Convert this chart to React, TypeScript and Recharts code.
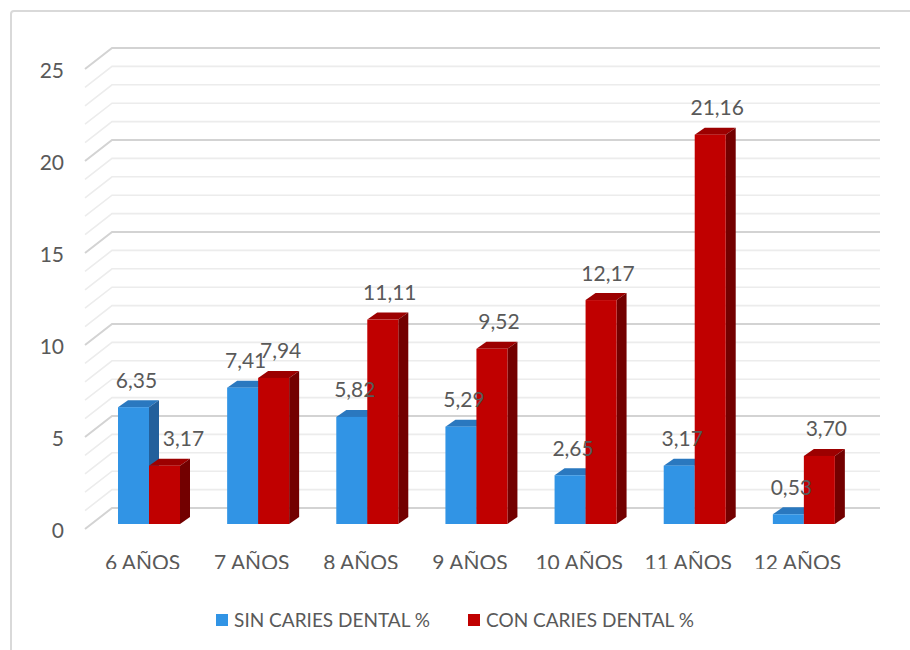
import { BarChart, Bar, XAxis, YAxis, CartesianGrid, Legend, LabelList } from 'recharts';

const categories = ['6 AÑOS', '7 AÑOS', '8 AÑOS', '9 AÑOS', '10 AÑOS', '11 AÑOS', '12 AÑOS'];
const sinCaries = [6.35, 7.41, 5.82, 5.29, 2.65, 3.17, 0.53];
const conCaries = [3.17, 7.94, 11.11, 9.52, 12.17, 21.16, 3.7];
const seriesNames = ['SIN CARIES DENTAL %', 'CON CARIES DENTAL %'];
const yTicks = [0, 1, 2, 3, 4, 5, 6, 7, 8, 9, 10, 11, 12, 13, 14, 15, 16, 17, 18, 19, 20, 21, 22, 23, 24, 25];
const yLabels = [0, 5, 10, 15, 20, 25];

const data = categories.map((name, i) => ({ name, sin: sinCaries[i], con: conCaries[i] }));

const FONT = 'Lato, "Open Sans", sans-serif';
const TEXT = '#595959';

// plot area (front edge of the floor)
const TOP = 69;
const BOTTOM = 529;
// back wall offset
const WALL_DX = 24;
const WALL_DY = 21;
const WALL_RIGHT = 880;
// bar front plane offset and bar depth
const BAR_DX = 6;
const BAR_DY = 5;
const DEPTH_X = 10;
const DEPTH_Y = 7;

const BLUE = { front: '#3194e5', top: '#2a78bf', side: '#23609c' };
const RED = { front: '#c00000', top: '#9c0000', side: '#730000' };

function Box3D(props: any) {
  const { x, y, width, height, colors } = props;
  if (!height || height <= 0) return null;
  const fx = x + BAR_DX;
  const fy = y - BAR_DY;
  const w = width;
  const h = height;
  return (
    <g>
      <polygon
        points={`${fx},${fy} ${fx + DEPTH_X},${fy - DEPTH_Y} ${fx + w + DEPTH_X},${fy - DEPTH_Y} ${fx + w},${fy}`}
        fill={colors.top}
      />
      <polygon
        points={`${fx + w},${fy} ${fx + w + DEPTH_X},${fy - DEPTH_Y} ${fx + w + DEPTH_X},${fy + h - DEPTH_Y} ${fx + w},${fy + h}`}
        fill={colors.side}
      />
      <rect x={fx} y={fy} width={w} height={h} fill={colors.front} />
    </g>
  );
}

// red labels move right when the blue bar beside them is taller
function valueLabel(series: 'sin' | 'con') {
  return (props: any) => {
    const { x, y, width, value, index } = props;
    let shift = series === 'sin' ? 3 : 7;
    if (series === 'con' && data[index].sin > data[index].con) shift = 19;
    return (
      <text
        x={x + width / 2 + BAR_DX + shift}
        y={y - BAR_DY - 28}
        textAnchor="middle"
        dominantBaseline="central"
        fontFamily={FONT}
        fontSize={21}
        fill={TEXT}
      >
        {Number(value).toFixed(2).replace('.', ',')}
      </text>
    );
  };
}

function gridLine(props: any) {
  const { x1, y1 } = props;
  const v = Math.round(((BOTTOM - y1) / (BOTTOM - TOP)) * 25);
  const major = v % 5 === 0;
  return (
    <path
      key={`g-${v}`}
      d={`M${x1 - 3},${y1} L${x1 + WALL_DX},${y1 - WALL_DY} L${WALL_RIGHT},${y1 - WALL_DY}`}
      fill="none"
      stroke={major ? '#d3d3d3' : '#ececec'}
      strokeWidth={major ? 2 : 1.6}
    />
  );
}

function YTick(props: any) {
  const { y, payload } = props;
  if (!yLabels.includes(payload.value)) return null;
  return (
    <text x={64} y={y} textAnchor="end" dominantBaseline="central" fontFamily={FONT} fontSize={21} fill={TEXT}>
      {payload.value}
    </text>
  );
}

function XTick(props: any) {
  const { x, payload } = props;
  return (
    <g>
      <defs>
        <clipPath id={`xclip-${payload.index}`}>
          <rect x={x - 80} y={540} width={160} height={29} />
        </clipPath>
      </defs>
      <text
        x={x}
        y={561}
        textAnchor="middle"
        dominantBaseline="central"
        fontFamily={FONT}
        fontSize={21}
        fill={TEXT}
        clipPath={`url(#xclip-${payload.index})`}
      >
        {payload.value}
      </text>
    </g>
  );
}

function LegendContent() {
  const swatches = [BLUE.front, RED.front];
  return (
    <div style={{ display: 'flex', justifyContent: 'center', gap: 38, fontFamily: FONT, fontSize: 19, color: TEXT }}>
      {seriesNames.map((n, i) => (
        <div key={n} style={{ display: 'flex', alignItems: 'center' }}>
          <span style={{ display: 'inline-block', width: 12, height: 12, background: swatches[i], marginRight: 6 }} />
          <span>{n}</span>
        </div>
      ))}
    </div>
  );
}

export default function App() {
  return (
    <div style={{ position: 'absolute', left: 0, top: 0, width: 910, height: 650, overflow: 'hidden', background: '#fff' }}>
      <div
        style={{
          position: 'absolute',
          left: 10,
          top: 10,
          width: 920,
          height: 680,
          border: '2px solid #d9d9d9',
          borderRadius: 4,
        }}
      />
      <div style={{ position: 'absolute', left: 0, top: 0 }}>
        <BarChart width={910} height={650} data={data} margin={{ top: TOP, right: 58, left: 28, bottom: 91 }} barGap={0}>
          <CartesianGrid vertical={false} horizontal={gridLine} />
          <XAxis dataKey="name" height={30} axisLine={false} tickLine={false} tick={XTick} interval={0} />
          <YAxis width={60} domain={[0, 25]} ticks={yTicks} interval={0} axisLine={false} tickLine={false} tick={YTick} />
          <Legend
            layout="horizontal"
            verticalAlign="middle"
            align="center"
            wrapperStyle={{ top: 608, left: 0, width: 910 }}
            content={LegendContent}
          />
          <Bar
            dataKey="sin"
            name={seriesNames[0]}
            barSize={31}
            isAnimationActive={false}
            shape={(p: any) => <Box3D {...p} colors={BLUE} />}
          >
            <LabelList dataKey="sin" content={valueLabel('sin')} />
          </Bar>
          <Bar
            dataKey="con"
            name={seriesNames[1]}
            barSize={31}
            isAnimationActive={false}
            shape={(p: any) => <Box3D {...p} colors={RED} />}
          >
            <LabelList dataKey="con" content={valueLabel('con')} />
          </Bar>
        </BarChart>
      </div>
    </div>
  );
}
